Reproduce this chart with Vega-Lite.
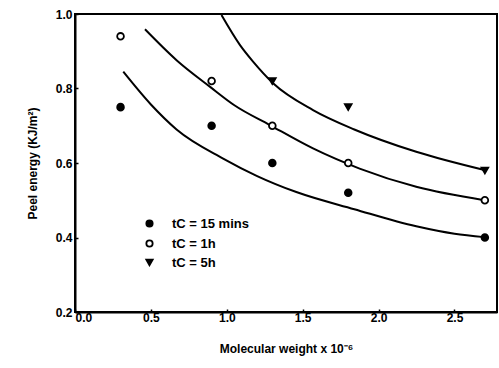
{
  "$schema": "https://vega.github.io/schema/vega-lite/v6.json",
  "width": 422,
  "height": 298,
  "autosize": {"type": "none"},
  "padding": {"left": 75, "top": 14, "right": 2, "bottom": 56},
  "background": "white",
  "config": {
    "font": "Liberation Sans",
    "view": {"stroke": "black", "strokeWidth": 2},
    "axis": {
      "domainColor": "black", "domainWidth": 2, "tickColor": "black", "tickSize": -3, "tickWidth": 1.5,
      "labelFont": "Liberation Sans", "labelFontWeight": "bold", "labelFontSize": 12, "labelColor": "black",
      "titleFont": "Liberation Sans", "titleFontWeight": "bold", "titleFontSize": 12, "titleColor": "black",
      "grid": false
    }
  },
  "datasets": {
    "curves": [
      {"series": "15 mins", "x": 0.318, "y": 0.845},
      {"series": "15 mins", "x": 0.5, "y": 0.757},
      {"series": "15 mins", "x": 0.669, "y": 0.69},
      {"series": "15 mins", "x": 0.976, "y": 0.612},
      {"series": "15 mins", "x": 1.2, "y": 0.565},
      {"series": "15 mins", "x": 1.458, "y": 0.522},
      {"series": "15 mins", "x": 1.84, "y": 0.476},
      {"series": "15 mins", "x": 2.248, "y": 0.43},
      {"series": "15 mins", "x": 2.5, "y": 0.41},
      {"series": "15 mins", "x": 2.697, "y": 0.401},
      {"series": "1h", "x": 0.461, "y": 0.959},
      {"series": "1h", "x": 0.669, "y": 0.876},
      {"series": "1h", "x": 0.888, "y": 0.805},
      {"series": "1h", "x": 1.05, "y": 0.755},
      {"series": "1h", "x": 1.283, "y": 0.702},
      {"series": "1h", "x": 1.568, "y": 0.639},
      {"series": "1h", "x": 1.875, "y": 0.585},
      {"series": "1h", "x": 2.248, "y": 0.536},
      {"series": "1h", "x": 2.697, "y": 0.5},
      {"series": "5h", "x": 0.965, "y": 0.997},
      {"series": "5h", "x": 1.086, "y": 0.917},
      {"series": "5h", "x": 1.173, "y": 0.872},
      {"series": "5h", "x": 1.305, "y": 0.814},
      {"series": "5h", "x": 1.568, "y": 0.742},
      {"series": "5h", "x": 1.84, "y": 0.69},
      {"series": "5h", "x": 2.248, "y": 0.63},
      {"series": "5h", "x": 2.697, "y": 0.581}
    ],
    "points": [
      {"series": "15 mins", "x": 0.3, "y": 0.75},
      {"series": "15 mins", "x": 0.9, "y": 0.70},
      {"series": "15 mins", "x": 1.3, "y": 0.60},
      {"series": "15 mins", "x": 1.8, "y": 0.52},
      {"series": "15 mins", "x": 2.7, "y": 0.40},
      {"series": "1h", "x": 0.3, "y": 0.94},
      {"series": "1h", "x": 0.9, "y": 0.82},
      {"series": "1h", "x": 1.3, "y": 0.70},
      {"series": "1h", "x": 1.8, "y": 0.60},
      {"series": "1h", "x": 2.7, "y": 0.50},
      {"series": "5h", "x": 1.3, "y": 0.82},
      {"series": "5h", "x": 1.8, "y": 0.75},
      {"series": "5h", "x": 2.7, "y": 0.58}
    ]
  },
  "layer": [
    {
      "data": {"name": "curves"},
      "mark": {"type": "line", "interpolate": "monotone", "color": "black", "strokeWidth": 2},
      "encoding": {
        "x": {"field": "x", "type": "quantitative", "scale": {"domain": [0, 2.78], "nice": false},
              "axis": {"values": [0, 0.5, 1, 1.5, 2, 2.5], "format": ".1f", "title": "Molecular weight x 10⁻⁶", "titlePadding": 20, "labelPadding": 3}},
        "y": {"field": "y", "type": "quantitative", "scale": {"domain": [0.2, 1.0], "nice": false},
              "axis": {"values": [0.2, 0.4, 0.6, 0.8, 1.0], "format": ".1f", "title": "Peel energy (KJ/m²)", "titlePadding": 16, "labelPadding": 6}},
        "detail": {"field": "series"}
      }
    },
    {
      "data": {"name": "points"},
      "mark": {"type": "point", "stroke": "black", "strokeWidth": 1.8, "opacity": 1, "size": 45},
      "encoding": {
        "x": {"field": "x", "type": "quantitative"},
        "y": {"field": "y", "type": "quantitative"},
        "shape": {"field": "series", "type": "nominal",
                  "scale": {"domain": ["15 mins", "1h", "5h"], "range": ["circle", "circle", "triangle-down"]},
                  "legend": {"title": null, "orient": "none", "legendX": 68, "legendY": 203,
                             "labelExpr": "'tC = ' + datum.label", "labelFontSize": 13, "labelFontWeight": "bold",
                             "labelFont": "Liberation Sans", "labelColor": "black", "symbolSize": 40, "symbolStrokeWidth": 1.8,
                             "rowPadding": 5, "labelOffset": 16}},
        "fill": {"field": "series", "type": "nominal",
                 "scale": {"domain": ["15 mins", "1h", "5h"], "range": ["black", "white", "black"]},
                 "legend": {"title": null, "orient": "none", "legendX": 68, "legendY": 203,
                            "labelExpr": "'tC = ' + datum.label", "labelFontSize": 13, "labelFontWeight": "bold",
                            "labelFont": "Liberation Sans", "labelColor": "black", "symbolSize": 40, "symbolStrokeWidth": 1.8,
                            "rowPadding": 5, "labelOffset": 16}}
      }
    }
  ]
}
